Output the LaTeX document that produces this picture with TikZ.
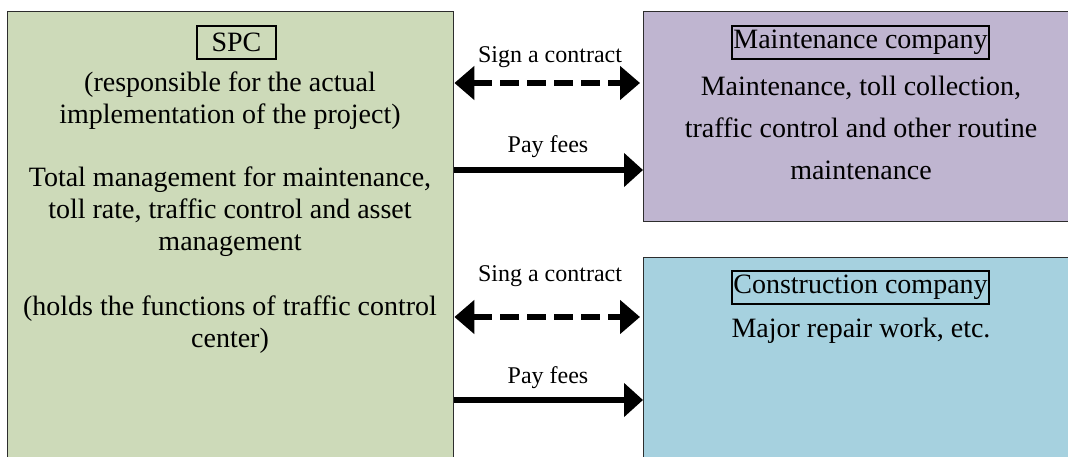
\documentclass[tikz,border=0pt]{standalone}
\usepackage{fontspec}
\setmainfont{Liberation Serif}
\usetikzlibrary{arrows.meta}
\definecolor{spcgreen}{RGB}{205,218,185}
\definecolor{mpurple}{RGB}{191,181,208}
\definecolor{cblue}{RGB}{166,209,223}
\definecolor{edgegray}{RGB}{45,45,45}
\tikzset{
  bigbox/.style={draw=edgegray, line width=1.4pt, anchor=north west, inner sep=0pt},
  tagbox/.style={draw=black, line width=1.5pt, inner sep=0pt, minimum height=33pt, font=\fontsize{28}{32}\selectfont},
  bodytext/.style={align=center, inner sep=0pt, font=\fontsize{28}{32}\selectfont},
  bodytextwide/.style={align=center, inner sep=0pt, font=\fontsize{28}{42}\selectfont},
  arrlabel/.style={inner sep=0pt, font=\fontsize{24}{28}\selectfont},
  contractarrow/.style={line width=6pt, dash pattern=on 19pt off 8pt, {Triangle[length=20pt,width=33pt]}-{Triangle[length=20pt,width=33pt]}},
  payarrow/.style={line width=6pt, -{Triangle[length=19pt,width=33pt]}}
}
\begin{document}
\begin{tikzpicture}[x=1pt,y=-1pt]
\useasboundingbox (0,0) rectangle (1068,457);
\clip (0,0) rectangle (1068,457);
% boxes
\node[bigbox, fill=spcgreen, minimum width=446pt, minimum height=480pt] (spc) at (7,11) {};
\node[bigbox, fill=mpurple, minimum width=440pt, minimum height=210pt] (maint) at (643,11) {};
\node[bigbox, fill=cblue, minimum width=440pt, minimum height=230pt] (cons) at (643,257) {};
% tags
\node[tagbox, minimum width=79pt] (spctag) at (236.5,42.5) {SPC};
\node[tagbox, minimum width=257pt] (mtag) at (860.5,42.5) {Maintenance company};
\node[tagbox, minimum width=257pt] (ctag) at (860.5,287.5) {Construction company};
% body texts
\node[bodytext] (spc1) at (230,101) {(responsible for the actual\\implementation of the project)};
\node[bodytext] (spc2) at (230,212) {Total management for maintenance,\\toll rate, traffic control and asset\\management};
\node[bodytext] (spc3) at (230,325) {(holds the functions of traffic control\\center)};
\node[bodytextwide] (mtext) at (861,128) {Maintenance, toll collection,\\traffic control and other routine\\maintenance};
\node[bodytext] (ctext) at (861,331) {Major repair work, etc.};
% arrows
\coordinate (ya) at (0,83);
\coordinate (yb) at (0,170);
\coordinate (yc) at (0,317);
\coordinate (yd) at (0,400);
\draw[contractarrow] (spc.east |- ya) -- ([xshift=-3pt]maint.west |- ya);
\draw[payarrow] (spc.east |- yb) -- (maint.west |- yb);
\draw[contractarrow] (spc.east |- yc) -- ([xshift=-3pt]cons.west |- yc);
\draw[payarrow] (spc.east |- yd) -- (cons.west |- yd);
% arrow labels
\node[arrlabel] (la) at (550,57) {Sign a contract};
\node[arrlabel] (lb) at (548,147) {Pay fees};
\node[arrlabel] (lc) at (550,276) {Sing a contract};
\node[arrlabel] (ld) at (548,378) {Pay fees};
\end{tikzpicture}
\end{document}
